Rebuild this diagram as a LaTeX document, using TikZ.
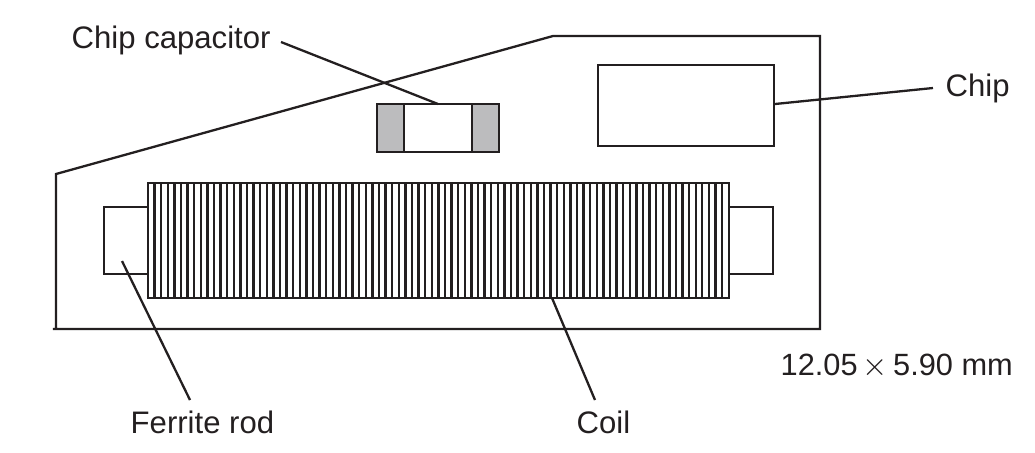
\documentclass[tikz,border=0pt]{standalone}
\usepackage{fontspec}
\setmainfont{Liberation Sans}
\usepackage{tikz}
\usetikzlibrary{positioning, calc}
\definecolor{padgray}{RGB}{188,188,190}
\definecolor{inkblack}{RGB}{35,31,32}

\begin{document}
\begin{tikzpicture}[ink/.style={draw=inkblack, line width=0.023cm},
    label/.style={font=\fontsize{8.85pt}{11pt}\selectfont, text=inkblack, inner sep=0pt}]
  \useasboundingbox (0,0) rectangle (10.35,4.52);
  % --- module outline ---
  \draw[ink, line join=miter] (0.53,1.23) -- (8.20,1.23) -- (8.20,4.16) -- (5.53,4.16) -- (0.56,2.78) -- (0.56,1.23);
  % --- ferrite rod ends ---
  \node[ink, minimum width=0.44cm, minimum height=0.67cm, inner sep=0pt, outer sep=0pt] (rodL) at (1.26,2.115) {};
  \node[ink, minimum width=0.44cm, minimum height=0.67cm, inner sep=0pt, outer sep=0pt] (rodR) at (7.51,2.115) {};
  % --- coil ---
  \node[ink, fill=white, minimum width=5.81cm, minimum height=1.15cm, inner sep=0pt, outer sep=0pt] (coil) at (4.385,2.115) {};
  \foreach \i in {1,...,87}
    \draw[ink] ($(coil.south west)+(\i*0.0660,0)$) -- ($(coil.north west)+(\i*0.0660,0)$);
  % --- chip capacitor ---
  \node[ink, minimum width=1.22cm, minimum height=0.48cm, inner sep=0pt, outer sep=0pt] (cap) at (4.38,3.24) {};
  \node[ink, fill=padgray, minimum width=0.27cm, minimum height=0.48cm, inner sep=0pt, outer sep=0pt, anchor=west] (capL) at (cap.west) {};
  \node[ink, fill=padgray, minimum width=0.27cm, minimum height=0.48cm, inner sep=0pt, outer sep=0pt, anchor=east] (capR) at (cap.east) {};
  % --- chip ---
  \node[ink, minimum width=1.76cm, minimum height=0.81cm, inner sep=0pt, outer sep=0pt] (chip) at (6.86,3.465) {};
  % --- labels ---
  \node[label, anchor=base west] (capText) at (0.71,4.04) {Chip capacitor};
  \node[label, anchor=base west] (chipText) at (9.45,3.56) {Chip};
  \node[label, anchor=base west] (rodText) at (1.30,0.19) {Ferrite rod};
  \node[label, anchor=base west] (coilText) at (5.76,0.19) {Coil};
  \node[label, font=\fontsize{8.75pt}{11pt}\selectfont, anchor=base west] (sizeText) at (7.80,0.77) {12.05\,$\times$\,5.90 mm};
  % --- leaders ---
  \coordinate (capEnd) at (4.38,3.48);
  \coordinate (chipEnd) at (7.75,3.48);
  \coordinate (rodEnd) at (1.22,1.91);
  \coordinate (coilEnd) at (5.52,1.54);
  \coordinate (capStart) at (2.81,4.10);
  \coordinate (chipStart) at (9.33,3.64);
  \coordinate (rodStart) at (1.90,0.52);
  \coordinate (coilStart) at (5.95,0.52);
  \draw[ink] (capStart) -- (capEnd);
  \draw[ink] (chipStart) -- (chipEnd);
  \draw[ink] (rodStart) -- (rodEnd);
  \draw[ink] (coilStart) -- (coilEnd);
\end{tikzpicture}
\end{document}
